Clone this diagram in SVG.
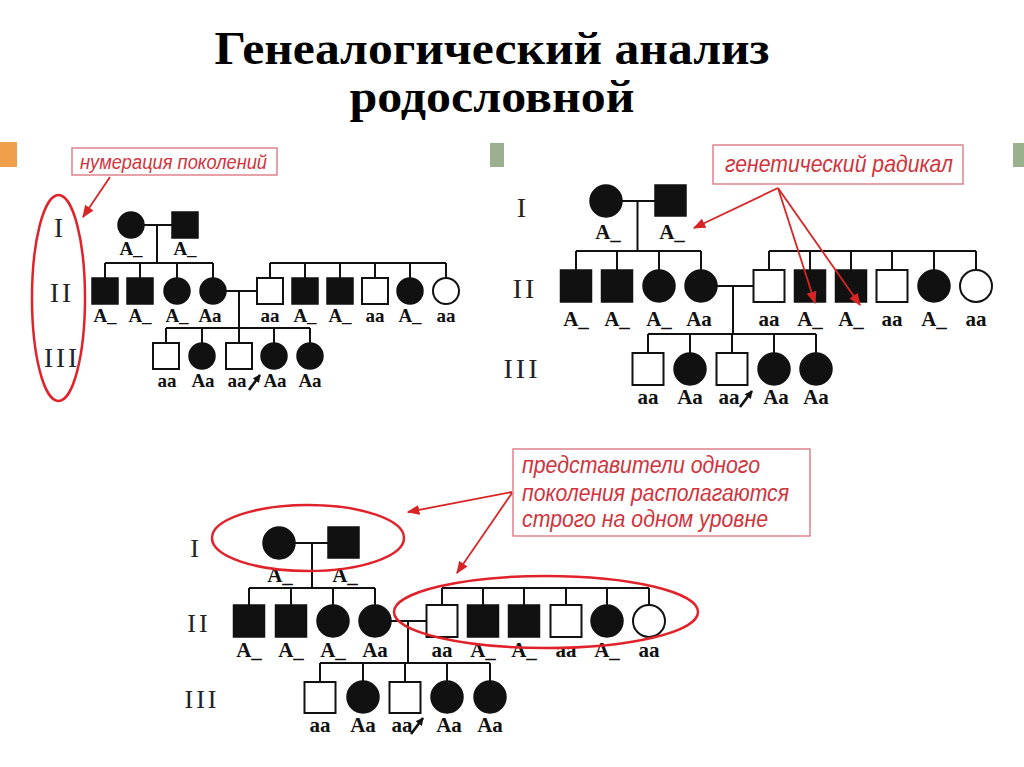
<svg xmlns="http://www.w3.org/2000/svg" width="1024" height="767" viewBox="0 0 1024 767">
<defs>
<style>
.f{fill:#111;stroke:#111;stroke-width:1.5}
.o{fill:#fff;stroke:#111;stroke-width:2}
.ln{stroke:#111;stroke-width:2;fill:none}
.gt{font-family:"Liberation Serif","Times New Roman",serif;font-weight:bold;text-anchor:middle;fill:#111}
.g1{font-size:19px}
.g2{font-size:21px}
.rn{font-family:"Liberation Serif","Times New Roman",serif;text-anchor:middle;fill:#222;letter-spacing:3px}
.note{font-family:"Liberation Sans",Arial,sans-serif;font-style:italic;fill:#d0343c}
.box{fill:#fff;stroke:#d9707a;stroke-width:1.3}
.ell{fill:none;stroke:#e0232b;stroke-width:2.5}
.arr{stroke:#d82424;stroke-width:1.8;fill:none;marker-end:url(#ah)}
.pb{stroke:#111;stroke-width:2.6;fill:none;marker-end:url(#pa)}
.title{font-family:"Liberation Serif","Times New Roman",serif;font-weight:bold;font-size:46px;text-anchor:middle;fill:#000}
</style>
<marker id="ah" viewBox="0 0 10 10" refX="9" refY="5" markerWidth="7" markerHeight="7" orient="auto" markerUnits="strokeWidth">
<path d="M0,1 L10,5 L0,9 z" fill="#d82424"/>
</marker>
<marker id="pa" viewBox="0 0 10 10" refX="9" refY="5" markerWidth="3" markerHeight="3" orient="auto" markerUnits="strokeWidth">
<path d="M0,0 L10,5 L0,10 z" fill="#111"/>
</marker>
</defs>
<rect width="1024" height="767" fill="#fff"/>

<g id="title">
<text class="title" x="492" y="64" textLength="555" lengthAdjust="spacingAndGlyphs">Генеалогический  анализ</text>
<text class="title" x="492" y="112" textLength="285" lengthAdjust="spacingAndGlyphs">родословной</text>
</g>

<g id="slide-marks">
<rect x="0" y="142" width="17" height="25" fill="#f0a04b"/>
<rect x="490" y="143" width="14" height="24" fill="#9bb08e"/>
<rect x="1013" y="143" width="11" height="24" fill="#9bb08e"/>
</g>

<!-- ================= Pedigree 1 ================= -->
<g id="p1-numerals">
<text class="rn" x="60" y="237" font-size="27">I</text>
<text class="rn" x="62" y="302" font-size="27">II</text>
<text class="rn" x="62" y="367" font-size="27">III</text>
</g>

<g id="connectors">
<g id="p1-connectors">
<path class="ln" d="M144 225H172M157 225V263M105 263H213M105 263V278M140 263V278M177 263V278M213 263V278M226 291H257M239 291V328M270 263H446M270 263V278M305 263V278M340 263V278M375 263V278M410 263V278M446 263V278M166 328H310M166 328V343M202 328V343M239 328V343M274 328V343M310 328V343"/>
<line class="pb" x1="249" y1="390" x2="260" y2="375"/>
</g>
<g id="p2-connectors">
<path class="ln" d="M622 201H655M637.5 201V251M576 251H701M576 251V270M617 251V270M659 251V270M701 251V270M717 286H753M733 286V334M769 251H976M769 251V270M810 251V270M851 251V270M892 251V270M934 251V270M976 251V270M648 334H816M648 334V353M690 334V353M732 334V353M774 334V353M816 334V353"/>
<line class="pb" x1="740" y1="407" x2="752" y2="391"/>
</g>
<g id="p3-connectors">
<path class="ln" d="M295 543H328M312 543V588M249 588H375M249 588V605M291 588V605M333 588V605M375 588V605M391 621H427M408 621V663M442 588H649M442 588V605M483 588V605M524 588V605M566 588V605M607 588V605M649 588V605M320 663H490M320 663V682M363 663V682M405 663V682M447 663V682M490 663V682"/>
<line class="pb" x1="411" y1="734" x2="423" y2="718"/>
</g>
</g>

<g id="p1-I-1"><circle class="f" cx="131" cy="225" r="13"/><text class="gt g1" x="131" y="255">A_</text></g>
<g id="p1-I-2"><rect class="f" x="172" y="212" width="26" height="26"/><text class="gt g1" x="185" y="255">A_</text></g>
<g id="p1-II-1"><rect class="f" x="92" y="278" width="26" height="26"/><text class="gt g1" x="105" y="322">A_</text></g>
<g id="p1-II-2"><rect class="f" x="127" y="278" width="26" height="26"/><text class="gt g1" x="140" y="322">A_</text></g>
<g id="p1-II-3"><circle class="f" cx="177" cy="291" r="13"/><text class="gt g1" x="177" y="322">A_</text></g>
<g id="p1-II-4"><circle class="f" cx="213" cy="291" r="13"/><text class="gt g1" x="210" y="322">Aa</text></g>
<g id="p1-II-5"><rect class="o" x="257" y="278" width="26" height="26"/><text class="gt g1" x="270" y="322">aa</text></g>
<g id="p1-II-6"><rect class="f" x="292" y="278" width="26" height="26"/><text class="gt g1" x="305" y="322">A_</text></g>
<g id="p1-II-7"><rect class="f" x="327" y="278" width="26" height="26"/><text class="gt g1" x="340" y="322">A_</text></g>
<g id="p1-II-8"><rect class="o" x="362" y="278" width="26" height="26"/><text class="gt g1" x="375" y="322">aa</text></g>
<g id="p1-II-9"><circle class="f" cx="410" cy="291" r="13"/><text class="gt g1" x="410" y="322">A_</text></g>
<g id="p1-II-10"><circle class="o" cx="446" cy="291" r="13"/><text class="gt g1" x="446" y="322">aa</text></g>
<g id="p1-III-1"><rect class="o" x="153" y="343" width="26" height="26"/><text class="gt g1" x="167" y="387">aa</text></g>
<g id="p1-III-2"><circle class="f" cx="202" cy="356" r="13"/><text class="gt g1" x="203" y="387">Aa</text></g>
<g id="p1-III-3"><rect class="o" x="226" y="343" width="26" height="26"/><text class="gt g1" x="237" y="387">aa</text></g>
<g id="p1-III-4"><circle class="f" cx="274" cy="356" r="13"/><text class="gt g1" x="275" y="387">Aa</text></g>
<g id="p1-III-5"><circle class="f" cx="310" cy="356" r="13"/><text class="gt g1" x="310" y="387">Aa</text></g>

<g id="p1-annotation">
<rect class="box" x="72" y="148" width="205" height="27"/>
<text class="note" x="80" y="169" font-size="20" textLength="187" lengthAdjust="spacingAndGlyphs">нумерация поколений</text>
<ellipse class="ell" cx="58.5" cy="298" rx="26.5" ry="103"/>
<line class="arr" x1="110" y1="177" x2="83" y2="217"/>
</g>

<!-- ================= Pedigree 2 ================= -->
<g id="p2-numerals">
<text class="rn" x="523" y="217" font-size="28">I</text>
<text class="rn" x="525" y="298" font-size="28">II</text>
<text class="rn" x="522" y="378" font-size="28" letter-spacing="5">III</text>
</g>

<g id="p2-I-1"><circle class="f" cx="606" cy="201" r="16"/><text class="gt g2" x="608" y="239">A_</text></g>
<g id="p2-I-2"><rect class="f" x="655" y="185" width="31" height="31"/><text class="gt g2" x="672" y="239">A_</text></g>
<g id="p2-II-1"><rect class="f" x="560.5" y="270" width="31" height="32"/><text class="gt g2" x="576" y="326">A_</text></g>
<g id="p2-II-2"><rect class="f" x="601.5" y="270" width="31" height="32"/><text class="gt g2" x="617" y="326">A_</text></g>
<g id="p2-II-3"><circle class="f" cx="659" cy="286" r="16"/><text class="gt g2" x="659" y="326">A_</text></g>
<g id="p2-II-4"><circle class="f" cx="701" cy="286" r="16"/><text class="gt g2" x="699" y="326">Aa</text></g>
<g id="p2-II-5"><rect class="o" x="753.5" y="270" width="31" height="32"/><text class="gt g2" x="769" y="326">aa</text></g>
<g id="p2-II-6"><rect class="f" x="794.5" y="270" width="31" height="32"/><text class="gt g2" x="810" y="326">A_</text></g>
<g id="p2-II-7"><rect class="f" x="835.5" y="270" width="31" height="32"/><text class="gt g2" x="851" y="326">A_</text></g>
<g id="p2-II-8"><rect class="o" x="876.5" y="270" width="31" height="32"/><text class="gt g2" x="892" y="326">aa</text></g>
<g id="p2-II-9"><circle class="f" cx="934" cy="286" r="16"/><text class="gt g2" x="934" y="326">A_</text></g>
<g id="p2-II-10"><circle class="o" cx="976" cy="286" r="16"/><text class="gt g2" x="976" y="326">aa</text></g>
<g id="p2-III-1"><rect class="o" x="632.5" y="353" width="31" height="32"/><text class="gt g2" x="648" y="404">aa</text></g>
<g id="p2-III-2"><circle class="f" cx="690" cy="369" r="16"/><text class="gt g2" x="690" y="404">Aa</text></g>
<g id="p2-III-3"><rect class="o" x="716.5" y="353" width="31" height="32"/><text class="gt g2" x="729" y="404">aa</text></g>
<g id="p2-III-4"><circle class="f" cx="774" cy="369" r="16"/><text class="gt g2" x="776" y="404">Aa</text></g>
<g id="p2-III-5"><circle class="f" cx="816" cy="369" r="16"/><text class="gt g2" x="816" y="404">Aa</text></g>

<g id="p2-annotation">
<rect class="box" x="713" y="145" width="250" height="39"/>
<text class="note" x="725" y="172" font-size="24" textLength="228" lengthAdjust="spacingAndGlyphs">генетический радикал</text>
<line class="arr" x1="778" y1="188" x2="694" y2="228"/>
<line class="arr" x1="778" y1="188" x2="815" y2="303"/>
<line class="arr" x1="778" y1="188" x2="860" y2="305"/>
</g>

<!-- ================= Pedigree 3 ================= -->
<g id="p3-numerals">
<text class="rn" x="196" y="557" font-size="26">I</text>
<text class="rn" x="199" y="632" font-size="26">II</text>
<text class="rn" x="202" y="708" font-size="26" letter-spacing="4">III</text>
</g>

<g id="p3-I-1"><circle class="f" cx="279" cy="543" r="16"/><text class="gt g2" x="280" y="582">A_</text></g>
<g id="p3-I-2"><rect class="f" x="328" y="527" width="31" height="31"/><text class="gt g2" x="345" y="582">A_</text></g>
<g id="p3-II-1"><rect class="f" x="233.5" y="605" width="31" height="32"/><text class="gt g2" x="249" y="657">A_</text></g>
<g id="p3-II-2"><rect class="f" x="275.5" y="605" width="31" height="32"/><text class="gt g2" x="291" y="657">A_</text></g>
<g id="p3-II-3"><circle class="f" cx="333" cy="621" r="16"/><text class="gt g2" x="333" y="657">A_</text></g>
<g id="p3-II-4"><circle class="f" cx="375" cy="621" r="16"/><text class="gt g2" x="375" y="657">Aa</text></g>
<g id="p3-II-5"><rect class="o" x="426.5" y="605" width="31" height="32"/><text class="gt g2" x="442" y="657">aa</text></g>
<g id="p3-II-6"><rect class="f" x="467.5" y="605" width="31" height="32"/><text class="gt g2" x="483" y="657">A_</text></g>
<g id="p3-II-7"><rect class="f" x="508.5" y="605" width="31" height="32"/><text class="gt g2" x="524" y="657">A_</text></g>
<g id="p3-II-8"><rect class="o" x="550.5" y="605" width="31" height="32"/><text class="gt g2" x="566" y="657">aa</text></g>
<g id="p3-II-9"><circle class="f" cx="607" cy="621" r="16"/><text class="gt g2" x="607" y="657">A_</text></g>
<g id="p3-II-10"><circle class="o" cx="649" cy="621" r="16"/><text class="gt g2" x="649" y="657">aa</text></g>
<g id="p3-III-1"><rect class="o" x="304.5" y="682" width="31" height="31"/><text class="gt g2" x="320" y="732">aa</text></g>
<g id="p3-III-2"><circle class="f" cx="363" cy="697" r="16"/><text class="gt g2" x="363" y="732">Aa</text></g>
<g id="p3-III-3"><rect class="o" x="389.5" y="682" width="31" height="31"/><text class="gt g2" x="402" y="732">aa</text></g>
<g id="p3-III-4"><circle class="f" cx="447" cy="697" r="16"/><text class="gt g2" x="449" y="732">Aa</text></g>
<g id="p3-III-5"><circle class="f" cx="490" cy="697" r="16"/><text class="gt g2" x="490" y="732">Aa</text></g>

<g id="p3-annotation">
<rect class="box" x="513" y="449" width="297" height="87"/>
<text class="note" x="522" y="473" font-size="23" textLength="238" lengthAdjust="spacingAndGlyphs">представители одного</text>
<text class="note" x="522" y="501" font-size="23" textLength="267" lengthAdjust="spacingAndGlyphs">поколения располагаются</text>
<text class="note" x="522" y="527" font-size="23" textLength="246" lengthAdjust="spacingAndGlyphs">строго на одном уровне</text>
<ellipse class="ell" cx="308" cy="538" rx="96" ry="33"/>
<ellipse class="ell" cx="546" cy="612" rx="152" ry="36"/>
<line class="arr" x1="512" y1="492" x2="408" y2="512"/>
<line class="arr" x1="512" y1="493" x2="457" y2="573"/>
</g>
</svg>
